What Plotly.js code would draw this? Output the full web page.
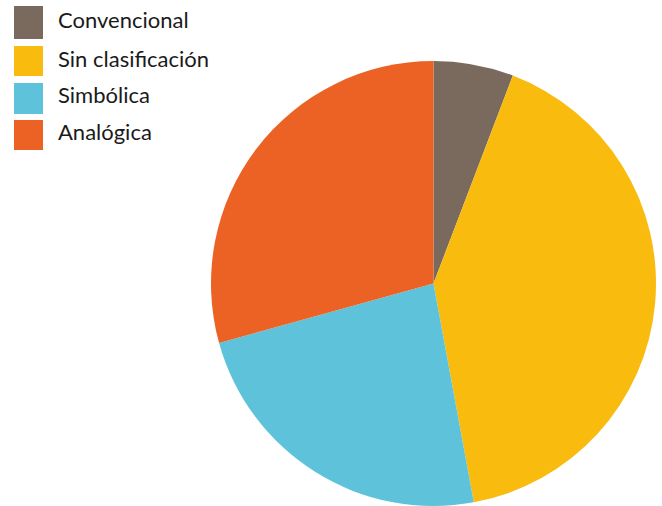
<!DOCTYPE html>
<html><head><meta charset="utf-8">
<script src="https://cdn.plot.ly/plotly-3.0.1.min.js"></script>
<style>html,body{margin:0;padding:0;background:#fff;overflow:hidden}</style>
</head><body><div id="chart" style="width:662px;height:506px"></div>
<script>
const labels = ["Convencional", "Sin clasificación", "Simbólica", "Analógica"];
const values = [5.8, 41.3, 23.6, 29.3];
const colors = ["#7a6a5d", "#f9bb0e", "#5ec3da", "#ec6224"];

const W = 662, H = 506;
const shapes = [], annotations = [];
const legTop = [6, 46, 83, 120];
const legBot = [39, 76, 114, 150];
const textMid = [19, 58, 94, 131];
labels.forEach((lab, i) => {
  shapes.push({type: "rect", xref: "paper", yref: "paper",
    x0: 14 / W, x1: 43 / W, y0: 1 - legBot[i] / H, y1: 1 - legTop[i] / H,
    fillcolor: colors[i], line: {width: 0}});
  annotations.push({xref: "paper", yref: "paper", x: 56 / W, y: 1 - textMid[i] / H,
    xanchor: "left", yanchor: "middle", text: lab, showarrow: false,
    font: {family: "Lato, sans-serif", size: 22, color: "#1a1a1a"}});
});

const data = [{
  type: "pie", labels: labels, values: values, sort: false,
  direction: "clockwise", rotation: 0,
  marker: {colors: colors, line: {width: 0}},
  textinfo: "none", hoverinfo: "label+percent",
  domain: {x: [211 / W, 656 / W], y: [0, 445 / H]}
}];
const layout = {width: W, height: H, margin: {l: 0, r: 0, t: 0, b: 0},
  paper_bgcolor: "#fff", showlegend: false, shapes: shapes, annotations: annotations};
Plotly.newPlot("chart", data, layout, {displayModeBar: false, staticPlot: true});
</script></body></html>
